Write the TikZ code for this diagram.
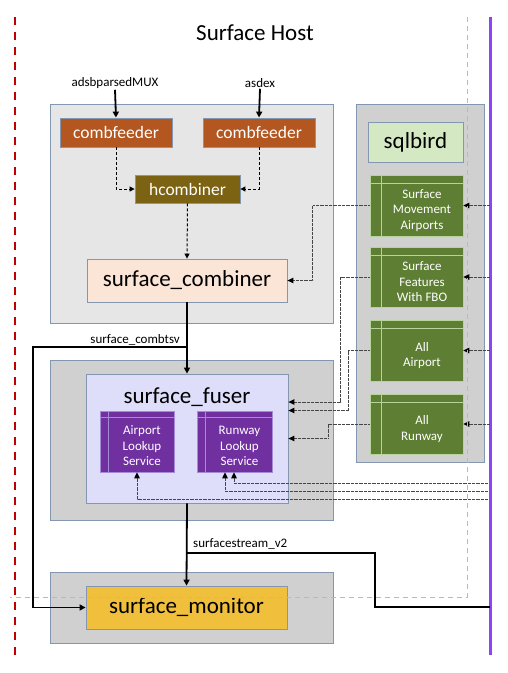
\documentclass[tikz,border=0pt]{standalone}
\usepackage{fontspec}
\setmainfont{Carlito}
\usepackage{tikz}
\usetikzlibrary{arrows.meta,positioning,calc}

\definecolor{boxblue}{HTML}{8497B0}
\definecolor{hostgray}{HTML}{E6E6E6}
\definecolor{grpgray}{HTML}{D0D0D0}
\definecolor{feedbrown}{HTML}{B4561F}
\definecolor{hcbrown}{HTML}{7C6213}
\definecolor{combpeach}{HTML}{FBE5D6}
\definecolor{fuserlav}{HTML}{DEDEFA}
\definecolor{lookpurple}{HTML}{7030A0}
\definecolor{lookedge}{HTML}{A58AD8}
\definecolor{sqlgreen}{HTML}{D5E8C4}
\definecolor{tabgreen}{HTML}{5E7E34}
\definecolor{tabedge}{HTML}{B5D39A}
\definecolor{mongold}{HTML}{F0BF3C}
\definecolor{lanepurple}{HTML}{8C44F7}
\definecolor{lanered}{HTML}{C00000}

\tikzset{
  tabgrid/.style n args={3}{path picture={
    \draw[#3,line width=0.6pt]
      ([yshift=-#1]path picture bounding box.north west) -- ([yshift=-#1]path picture bounding box.north east)
      ([xshift=#2]path picture bounding box.north west) -- ([xshift=#2]path picture bounding box.south west);}},
}

\begin{document}
\begin{tikzpicture}[x=1pt,y=-1pt,
  grp/.style={draw=boxblue, line width=0.8pt, fill=grpgray, inner sep=0pt},
  svc/.style={draw=boxblue, line width=0.8pt, inner sep=0pt,
    font=\fontsize{23}{26}\selectfont},
  feeder/.style={svc, fill=feedbrown, text=white, minimum width=112pt,
    minimum height=29pt, font=\fontsize{17.5}{20}\selectfont},
  gtab/.style={draw=tabedge, fill=tabgreen, line width=0.6pt, inner sep=0pt,
    minimum width=93pt, minimum height=61pt, tabgrid={8pt}{11pt}{tabedge}},
  ltab/.style={draw=lookedge, fill=lookpurple, line width=0.6pt, inner sep=0pt,
    minimum width=74pt, minimum height=61pt, tabgrid={6pt}{8pt}{lookedge}},
  tabtext/.style={text=white, align=center, font=\fontsize{13}{15.5}\selectfont},
  small/.style={font=\fontsize{13}{15}\selectfont, inner sep=1pt},
  flow/.style={line width=1.8pt, -{Triangle[length=6pt,width=6pt]}},
  dflow/.style={line width=1pt, dash pattern=on 3pt off 2pt,
    -{Triangle[length=5pt,width=5pt]}},
  feed/.style={line width=1pt, gray!55!black, dash pattern=on 0.8pt off 0.5pt,
    -{Triangle[length=6pt,width=5.5pt,black]}},
]
\useasboundingbox (0,0) rectangle (507,673);

% group boxes
\node[grp, fill=hostgray, minimum width=283pt, minimum height=219pt] (hostBox) at (191.5,213.5) {};
\node[grp, minimum width=283pt, minimum height=160pt] (fuserBox) at (191.5,440) {};
\node[grp, minimum width=283pt, minimum height=71pt] (monBox) at (191.5,607.5) {};
\node[grp, minimum width=128pt, minimum height=358pt] (sqlBox) at (420,283) {};

\node[font=\fontsize{23}{26}\selectfont] (title) at (255,33) {Surface Host};

% combiner part
\node[small] (inA) at (115,83) {adsbparsedMUX};
\node[small] (inB) at (260,83) {asdex};
\node[feeder] (cf1) at (116,132.5) {combfeeder};
\node[feeder] (cf2) at (259,132.5) {combfeeder};
\node[feeder, fill=hcbrown, minimum width=105pt, minimum height=28pt] (hcomb) at (187.5,189) {hcombiner};
\node[svc, fill=combpeach, minimum width=200pt, minimum height=43pt] (scomb) at (187,280.5) {surface\_combiner};

% fuser part
\node[draw=boxblue, line width=0.8pt, fill=fuserlav, minimum width=202pt, minimum height=129pt] (fuser) at (187,438.5) {};
\node[font=\fontsize{23}{26}\selectfont] (fuserLbl) at (187,397) {surface\_fuser};
\node[ltab, label={[tabtext,xshift=5pt,yshift=-4.5pt]center:Airport\\Lookup\\Service}] (apLook) at (137,441.5) {};
\node[ltab, minimum width=75pt, label={[tabtext,xshift=5pt,yshift=-4.5pt]center:Runway\\Lookup\\Service}] (rwLook) at (234.5,441.5) {};

% monitor
\node[svc, fill=mongold, minimum width=201pt, minimum height=43pt] (mon) at (186.5,607.5) {surface\_monitor};

% sqlbird tables
\node[svc, fill=sqlgreen, minimum width=95pt, minimum height=40pt] (sqlbird) at (415.5,142) {sqlbird};
\node[gtab, label={[tabtext,xshift=5.5pt,yshift=-5pt]center:Surface\\Movement\\Airports}] (tSMA) at (416.5,205.5) {};
\node[gtab, minimum height=60pt, label={[tabtext,xshift=5.5pt,yshift=-5pt]center:Surface\\Features\\With FBO}] (tSFF) at (416.5,277) {};
\node[gtab, label={[tabtext,xshift=5.5pt,yshift=-5pt]center:All\\Airport}] (tAA) at (416.5,350.5) {};
\node[gtab, minimum height=60pt, label={[tabtext,xshift=5.5pt,yshift=-5pt]center:All\\Runway}] (tAR) at (416.5,424) {};

% lane lines
\coordinate (pTop) at (490,17);
\coordinate (pBot) at (490,655);
\coordinate (rTop) at (15,17);
\coordinate (rBot) at (15,655);
\draw[lanered, line width=2.2pt, dash pattern=on 8pt off 7pt] (rTop) -- (rBot);
\draw[lanepurple, line width=3pt] (pTop) -- (pBot);

% main flow
\draw[flow] (inA.south) -- (cf1.north);
\draw[flow] (inB.south) -- (cf2.north);
\draw[dflow] (cf1.south) |- (hcomb.west);
\draw[dflow] (cf2.south) |- (hcomb.east);
\draw[dflow] (hcomb.south) -- (scomb.north);
\draw[flow] (scomb.south) -- (fuser.north);
\coordinate (splitA) at (187,347);
\node[small, anchor=south east] (lblA) at ([xshift=-6pt,yshift=1pt]splitA) {surface\_combtsv};
\draw[flow] (splitA) -- ++(-154,0) |- (mon.west);
\draw[flow] (fuser.south) -- (mon.north);
\coordinate (splitB) at (187,553);
\node[small, anchor=south west] (lblB) at ([xshift=5pt,yshift=3pt]splitB) {surfacestream\_v2};
\coordinate (pOut) at (490,607);
\draw[line width=1.8pt] (splitB) -- ++(188,0) |- (pOut);

% table feeds
\foreach \t in {tSMA,tSFF,tAA,tAR}
  \draw[feed] (\t.east -| pTop) -- (\t.east);
\draw[feed] (tSMA.west) -- ++(-57,0) |- (scomb.east);
\draw[feed] (tSFF.west) -- ++(-29,0) |- ($(fuser.east)+(0,-36.5)$);
\draw[feed] (tAA.west) -- ++(-21,0) |- ($(fuser.east)+(0,-28)$);
\draw[feed] (tAR.west) -- ++(-41,0) |- ($(fuser.east)+(0,0)$);
\coordinate (pL1) at (488,483);
\coordinate (pL2) at (488,491);
\coordinate (pL3) at (488,499);
\draw[feed] (pL1) -| ([xshift=-0.5pt]rwLook.south);
\draw[feed] (pL2) -| ([xshift=-9.5pt]rwLook.south);
\draw[feed] (pL3) -| (apLook.south);

% host boundary
\draw[gray!55, line width=0.9pt, dash pattern=on 5pt off 4pt] (467,17) -- (467,597) -- (10,597);
\end{tikzpicture}
\end{document}
